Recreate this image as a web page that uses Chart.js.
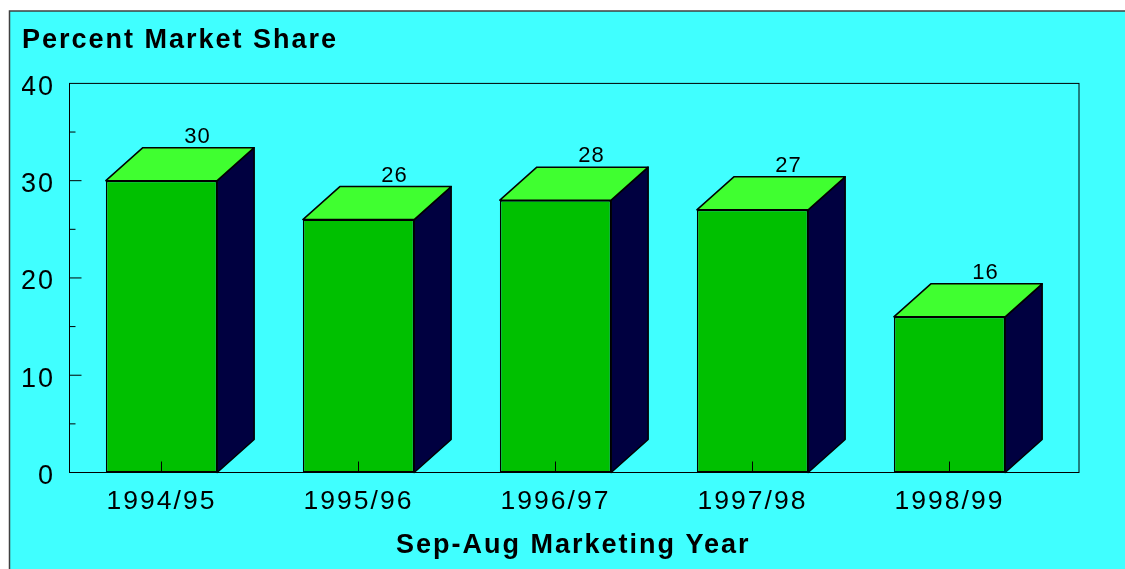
<!DOCTYPE html>
<html>
<head>
<meta charset="utf-8">
<style>
  body { margin: 0; background: #fff; }
  #wrap { width: 1125px; height: 569px; }
</style>
<script src="https://cdn.jsdelivr.net/npm/chart.js@4"></script>
</head>
<body>
<div id="wrap"><canvas id="chart" width="1125" height="569"></canvas></div>
<script>
const categories = ["1994/95", "1995/96", "1996/97", "1997/98", "1998/99"];
const marketShare = [30, 26, 28, 27, 16];
const yTickStep = 5;
const yLabelStep = 10;
const yMax = 40;
const xAxisTitle = "Sep-Aug Marketing Year";

const DEPTH_X = 37;
const DEPTH_Y = 33;
// the frame sits a bit right of the category band, to leave room for the 3D depth
const FRAME_LEFT = 6.5;
const FRAME_RIGHT = 31;
const FONT = "'Liberation Sans', Arial, sans-serif";

// panel behind the chart, and letter spacing for all the text
const panel = {
  id: "panel",
  beforeDraw(chart) {
    const ctx = chart.ctx;
    ctx.save();
    ctx.fillStyle = "#40ffff";
    ctx.fillRect(10, 11, chart.width, chart.height);
    ctx.strokeStyle = "#404040";
    ctx.lineWidth = 1.5;
    ctx.beginPath();
    ctx.moveTo(9.5, chart.height);
    ctx.lineTo(9.5, 11);
    ctx.lineTo(chart.width, 11);
    ctx.stroke();
    ctx.restore();
    ctx.letterSpacing = "2px";
  },
};

// side + top faces, ticks and value labels
const boxes = {
  id: "boxes",
  beforeDatasetsDraw(chart) {
    const ctx = chart.ctx;
    const meta = chart.getDatasetMeta(0);
    const y0 = chart.scales.y.getPixelForValue(0);
    ctx.save();
    ctx.strokeStyle = "#000";
    ctx.lineWidth = 1.5;
    ctx.lineJoin = "round";
    meta.data.forEach((bar) => {
      const right = bar.x + bar.width / 2;
      const left = bar.x - bar.width / 2;
      ctx.fillStyle = "#000040";
      ctx.beginPath();
      ctx.moveTo(right, bar.y);
      ctx.lineTo(right + DEPTH_X, bar.y - DEPTH_Y);
      ctx.lineTo(right + DEPTH_X, y0 - DEPTH_Y);
      ctx.lineTo(right, y0);
      ctx.closePath();
      ctx.fill();
      ctx.stroke();
      ctx.fillStyle = "#40ff30";
      ctx.beginPath();
      ctx.moveTo(left, bar.y);
      ctx.lineTo(left + DEPTH_X, bar.y - DEPTH_Y);
      ctx.lineTo(right + DEPTH_X, bar.y - DEPTH_Y);
      ctx.lineTo(right, bar.y);
      ctx.closePath();
      ctx.fill();
      ctx.stroke();
    });
    ctx.restore();
  },
  afterDatasetsDraw(chart) {
    const ctx = chart.ctx;
    const area = chart.chartArea;
    const meta = chart.getDatasetMeta(0);
    const xs = chart.scales.x;
    const ys = chart.scales.y;
    const frameL = area.left + FRAME_LEFT;
    const frameR = area.right + FRAME_RIGHT;
    ctx.save();
    ctx.strokeStyle = "#000";
    ctx.lineWidth = 1;
    ctx.strokeRect(frameL, area.top, frameR - frameL, area.bottom - area.top);

    ctx.beginPath();
    categories.forEach((c, i) => {
      const x = xs.getPixelForTick(i);
      ctx.moveTo(x, area.bottom);
      ctx.lineTo(x, area.bottom - 11);
    });
    for (let v = yTickStep; v < yMax; v += yTickStep) {
      const y = ys.getPixelForValue(v);
      ctx.moveTo(frameL, y);
      ctx.lineTo(frameL + (v % yLabelStep === 0 ? 12 : 6), y);
    }
    ctx.stroke();

    ctx.fillStyle = "#000";
    ctx.font = "22px " + FONT;
    ctx.letterSpacing = "1px";
    ctx.textAlign = "center";
    ctx.textBaseline = "alphabetic";
    meta.data.forEach((bar, i) => {
      ctx.fillText(String(marketShare[i]), bar.x + 36, bar.y - DEPTH_Y - 5);
    });

    // x axis title is centred on the frame, not on the category band
    ctx.font = "bold 27px " + FONT;
    ctx.letterSpacing = "2px";
    ctx.fillText(xAxisTitle, (frameL + frameR) / 2 - 1, area.bottom + 80);
    ctx.restore();
  },
};

new Chart(document.getElementById("chart"), {
  type: "bar",
  data: {
    labels: categories,
    datasets: [
      {
        label: "Percent Market Share",
        data: marketShare,
        backgroundColor: "#00c000",
        borderColor: "#000",
        borderWidth: 1.5,
        borderSkipped: false,
        barPercentage: 0.565,
        categoryPercentage: 1,
      },
    ],
  },
  options: {
    responsive: false,
    animation: false,
    layout: { padding: { left: 22, right: 77, top: 24, bottom: 8 } },
    plugins: {
      legend: { display: false },
      tooltip: { enabled: false },
      title: {
        display: true,
        text: "Percent Market Share",
        align: "start",
        color: "#000",
        font: { family: FONT, size: 27, weight: "bold" },
        padding: { top: 0, bottom: 27 },
      },
    },
    scales: {
      x: {
        grid: { display: false, drawTicks: false },
        border: { display: false },
        ticks: {
          color: "#000",
          font: { family: FONT, size: 26.5 },
          padding: 13,
          maxRotation: 0,
          autoSkip: false,
        },
        afterFit(scale) { scale.height = 88.5; },
      },
      y: {
        min: 0,
        max: yMax,
        grid: { display: false, drawTicks: false },
        border: { display: false },
        ticks: {
          stepSize: yTickStep,
          color: "#000",
          font: { family: FONT, size: 27 },
          padding: 8,
          labelOffset: 4,
          callback: (v) => (v % yLabelStep === 0 ? String(v) : ""),
        },
        afterFit(scale) { scale.width = 41; },
      },
    },
  },
  plugins: [panel, boxes],
});
</script>
</body>
</html>
